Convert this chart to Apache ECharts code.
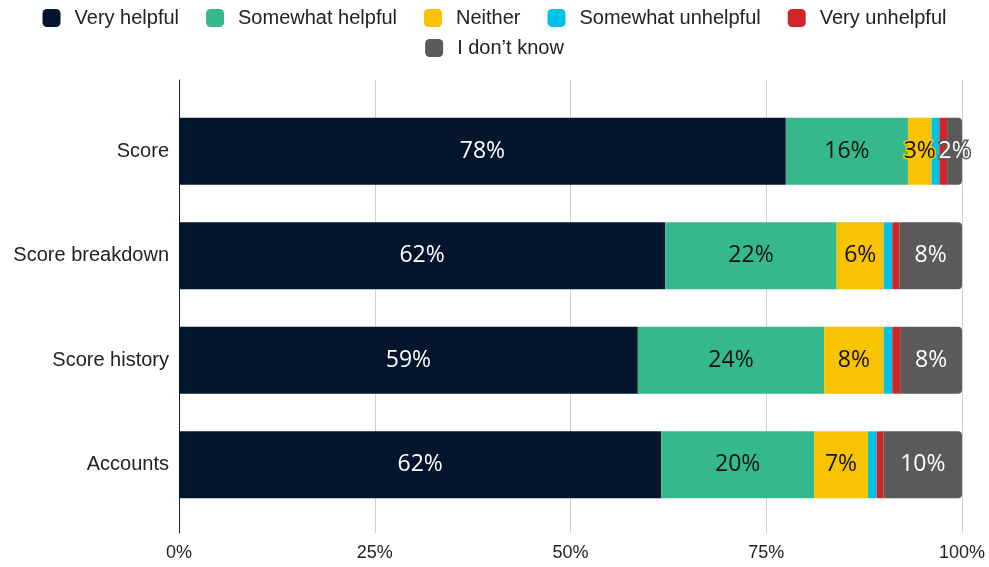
<!DOCTYPE html>
<html>
<head>
<meta charset="utf-8">
<script src="https://cdn.jsdelivr.net/npm/echarts@6/dist/echarts.min.js"></script>
<style>
  html, body { margin: 0; padding: 0; background: #fff; }
  #chart { width: 989px; height: 567px; }
</style>
</head>
<body>
<div id="chart"></div>
<script>
// categories, top to bottom
const categories = ['Score', 'Score breakdown', 'Score history', 'Accounts'];
const seriesNames = ['Very helpful', 'Somewhat helpful', 'Neither', 'Somewhat unhelpful', 'Very unhelpful', 'I don\u2019t know'];

// percentages
const veryHelpful       = [77.5, 62.1, 58.6, 61.6];
const somewhatHelpful   = [15.6, 21.9, 23.8, 19.5];
const neither           = [3.0, 6.0, 7.6, 6.9];
const somewhatUnhelpful = [1.0, 1.1, 1.1, 1.1];
const veryUnhelpful     = [1.0, 0.9, 1.0, 0.9];
const dontKnow          = [1.9, 8.0, 7.9, 10.0];

const xTicks = [0, 25, 50, 75, 100];

const colors = ['#03142d', '#36b88f', '#f8c300', '#00c2e7', '#d0252a', '#5a5a5a'];
const labelColors = ['#fff', '#111', '#111', '#111', '#fff', '#fff'];
const values = [veryHelpful, somewhatHelpful, neither, somewhatUnhelpful, veryUnhelpful, dontKnow];

const chart = echarts.init(document.getElementById('chart'));

const series = seriesNames.map((name, i) => ({
  name: name,
  type: 'bar',
  stack: 'total',
  xAxisIndex: 0,
  yAxisIndex: 0,
  barWidth: '64%',
  data: values[i],
  itemStyle: {
    color: colors[i],
    borderRadius: i === seriesNames.length - 1 ? [0, 4, 4, 0] : 0
  },
  label: {
    show: true,
    position: 'inside',
    fontFamily: 'Open Sans',
    fontSize: 23,
    color: labelColors[i],
    textBorderColor: colors[i],
    textBorderWidth: 3,
    formatter: p => p.value >= 1.5 ? Math.round(p.value) + '%' : ''
  },
  emphasis: { disabled: true }
}));

const legendText = {
  fontFamily: 'Liberation Sans',
  fontSize: 20,
  color: '#222',
  padding: [0, 0, 0, 9]
};

const option = {
  animation: false,
  legend: [
    {
      data: seriesNames.slice(0, 5),
      top: 3,
      left: 'center',
      itemWidth: 18,
      itemHeight: 18,
      itemGap: 27,
      icon: 'roundRect',
      textStyle: legendText
    },
    {
      data: seriesNames.slice(5),
      top: 33,
      left: 'center',
      itemWidth: 18,
      itemHeight: 18,
      icon: 'roundRect',
      textStyle: legendText
    }
  ],
  grid: [
    { left: 179, right: 27, top: 99, height: 418 },
    { left: 179, right: 27, top: 80, height: 453 }
  ],
  xAxis: [
    {
      gridIndex: 0, type: 'value', min: 0, max: 100, show: false
    },
    {
      gridIndex: 1, type: 'value', min: xTicks[0], max: xTicks[xTicks.length - 1], interval: 25,
      axisLine: { show: false },
      axisTick: { show: false },
      axisLabel: {
        formatter: '{value}%',
        fontFamily: 'Liberation Sans',
        fontSize: 18,
        color: '#222',
        margin: 11
      },
      splitLine: { lineStyle: { color: '#cfcfcf', width: 1 } }
    }
  ],
  yAxis: [
    {
      gridIndex: 0, type: 'category', data: categories, inverse: true,
      axisLine: { show: false },
      axisTick: { show: false },
      axisLabel: {
        fontFamily: 'Liberation Sans',
        fontSize: 20,
        color: '#222',
        margin: 10
      }
    },
    {
      gridIndex: 1, type: 'value', min: 0, max: 1,
      axisLine: { show: true, lineStyle: { color: '#222', width: 1 } },
      axisTick: { show: false },
      axisLabel: { show: false },
      splitLine: { show: false }
    }
  ],
  series: series
};

chart.setOption(option);
</script>
</body>
</html>
